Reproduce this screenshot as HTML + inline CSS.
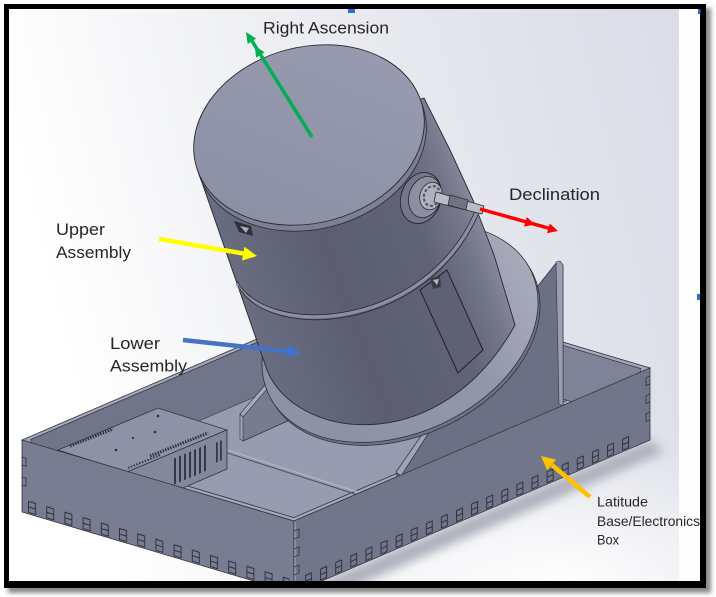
<!DOCTYPE html>
<html><head><meta charset="utf-8">
<style>
html,body{margin:0;padding:0;background:#fff;}
svg{display:block;}
text{font-family:"Liberation Sans",Arial,sans-serif;fill:#262626;}
</style></head><body>
<svg width="716" height="597" viewBox="0 0 716 597" xmlns="http://www.w3.org/2000/svg">
<defs>
 <linearGradient id="bg" x1="0" y1="0.2" x2="1" y2="0">
  <stop offset="0" stop-color="#ffffff"/>
  <stop offset="0.3" stop-color="#f1f2f5"/>
  <stop offset="0.7" stop-color="#e2e4eb"/>
  <stop offset="1" stop-color="#d9dce6"/>
 </linearGradient>
 <radialGradient id="bgb" cx="0.8" cy="1" r="0.5">
  <stop offset="0" stop-color="#ffffff" stop-opacity="0.95"/>
  <stop offset="1" stop-color="#ffffff" stop-opacity="0"/>
 </radialGradient>
 <linearGradient id="body" x1="200" y1="260" x2="480" y2="155" gradientUnits="userSpaceOnUse">
  <stop offset="0.06" stop-color="#6b6e82"/>
  <stop offset="0.4" stop-color="#5b5e70"/>
  <stop offset="0.72" stop-color="#606376"/>
  <stop offset="0.86" stop-color="#74778b"/>
  <stop offset="0.97" stop-color="#9194a7"/>
 </linearGradient>
 <linearGradient id="cap" x1="0" y1="1" x2="1" y2="0">
  <stop offset="0" stop-color="#8a8ea3"/>
  <stop offset="1" stop-color="#9a9db1"/>
 </linearGradient>
 <linearGradient id="disk" x1="260" y1="0" x2="540" y2="0" gradientUnits="userSpaceOnUse">
  <stop offset="0" stop-color="#8d91a5"/>
  <stop offset="0.7" stop-color="#9296aa"/>
  <stop offset="1" stop-color="#a7aabb"/>
 </linearGradient>
 <pattern id="tabR" x="11" y="-13" width="15.1" height="13" patternUnits="userSpaceOnUse">
  <path d="M0.5,0.5 h6 v11 h-6 z M0.5,6 h6" fill="none" stroke="#2a2c36" stroke-width="0.9"/>
 </pattern>
 <pattern id="tabL" x="6" y="-13" width="18.2" height="13" patternUnits="userSpaceOnUse">
  <path d="M0.5,0.5 h7 v11 h-7 z M0.5,6 h7" fill="none" stroke="#2a2c36" stroke-width="0.9"/>
 </pattern>
 <filter id="blur2" x="-10%" y="-10%" width="120%" height="120%"><feGaussianBlur stdDeviation="2"/></filter>
 <filter id="blur5" x="-20%" y="-20%" width="140%" height="140%"><feGaussianBlur stdDeviation="5"/></filter>
 <clipPath id="ci"><rect x="9" y="9" width="691" height="572"/></clipPath>
</defs>

<!-- frame shadow + frame -->
<rect x="8" y="8" width="703" height="585" fill="#8a8a8a" filter="url(#blur2)"/>
<rect x="4" y="4" width="702" height="584" fill="#000"/>

<g clip-path="url(#ci)">
 <rect x="9" y="9" width="691" height="572" fill="url(#bg)"/>
 <rect x="9" y="300" width="691" height="281" fill="url(#bgb)"/>
 <rect x="679" y="9" width="21" height="572" fill="#fdfdfd"/>

 <!-- box shadow -->
 <polygon points="650,440 294,593 296,612 664,452" fill="#aeb1bc" filter="url(#blur5)"/>

 <!-- box top rim (outer quad) -->
 <polygon points="22,440 378,287 650,368 294,521" fill="#a4a8ba" stroke="#30323c" stroke-width="0.8"/>
 <!-- floor (inner quad) -->
 <polygon points="31,439.5 378,290.4 640.6,368.6 293.8,517.6" fill="#989cb0" stroke="#30323c" stroke-width="0.8"/>
 <!-- inner back-left face -->
 <polygon points="31,439.5 378,290.4 378,344 31,493" fill="#71758a" stroke="#30323c" stroke-width="0.6"/>
 <!-- inner back-right face -->
 <polygon points="378,290.4 640.6,368.6 640.6,422 378,344" fill="#7f8398" stroke="#30323c" stroke-width="0.6"/>
 <!-- floor rib -->
 <line x1="190" y1="438" x2="358" y2="492" stroke="#b2b5c4" stroke-width="1.2"/>
 <line x1="190" y1="441" x2="358" y2="495" stroke="#4e5162" stroke-width="1"/>

 <!-- electronics box -->
 <polygon points="58,450 158,408 227,430 127,472" fill="#8e92a6" stroke="#30323c" stroke-width="0.8"/>
 <polygon points="127,472 227,430 227,469 183,488" fill="#84889d" stroke="#30323c" stroke-width="0.8"/>
 <g transform="translate(227,469) skewY(-23)" fill="#353743">
  <rect x="-53" y="-33" width="2" height="26"/>
  <rect x="-48" y="-33" width="2" height="26"/>
  <rect x="-43" y="-33" width="2" height="26"/>
  <rect x="-38" y="-33" width="2" height="26"/>
  <rect x="-33" y="-33" width="2" height="26"/>
  <rect x="-28" y="-33" width="2" height="26"/>
  <rect x="-23" y="-33" width="2" height="26"/>
  <rect x="-11" y="-31" width="1.8" height="20"/>
  <rect x="-7" y="-31" width="1.8" height="20"/>
 </g>
 <line x1="70" y1="446" x2="113" y2="429" stroke="#30323c" stroke-width="3" stroke-dasharray="1.5 1.2"/>
 <line x1="150" y1="456" x2="208" y2="433" stroke="#30323c" stroke-width="3" stroke-dasharray="1.5 1.2"/>
 <line x1="128" y1="468" x2="160" y2="455" stroke="#30323c" stroke-width="2" stroke-dasharray="1.5 1.5"/>
 <circle cx="158" cy="416" r="1.3" fill="#30323c"/>
 <circle cx="155" cy="432" r="1.3" fill="#30323c"/>
 <circle cx="116" cy="450" r="1.3" fill="#30323c"/>
 <circle cx="133" cy="438" r="1.1" fill="#30323c"/>

 <!-- left fin -->
 <polygon points="242,415 266,387 290,420 243,441" fill="#787c90" stroke="#30323c" stroke-width="0.8"/>
 <polygon points="240,414 265,385 268,388 243,417" fill="#a5a9ba" stroke="#30323c" stroke-width="0.6"/>
 <polygon points="240,414 243,417 243,441 240,439" fill="#a0a4b6" stroke="#30323c" stroke-width="0.6"/>

 <!-- right plate -->
 <polygon points="397,474 425,432 537,287 557,262 563,265 563,406 397,478" fill="#6c7084" stroke="#30323c" stroke-width="0.8"/>
 <polygon points="556,262 560,261 563,265 563,406 559,404" fill="#9a9eb0" stroke="#30323c" stroke-width="0.6"/>
 <polygon points="396,472 423,433 428,434 401,476" fill="#a0a4b5" stroke="#30323c" stroke-width="0.7"/>

 <!-- disk -->
 <ellipse cx="402" cy="336" rx="145" ry="100" transform="rotate(-25 402 336)" fill="#6e7286" stroke="#30323c" stroke-width="0.8"/>
 <ellipse cx="400" cy="333" rx="145" ry="100" transform="rotate(-25 400 333)" fill="url(#disk)" stroke="#30323c" stroke-width="0.8"/>

 <!-- cylinder body -->
 <path d="M197,168 L267,370 C295,440 440,460 515,325 L494,255 L473,200 L450,150 L424,98 Z" fill="url(#body)" stroke="#262830" stroke-width="0.9"/>
 <!-- seam ring -->
 <path d="M237,283 C268,340 425,330 476,213" fill="none" stroke="#8c8fa2" stroke-width="3.5"/>
 <path d="M237,281 C268,338 425,328 475,211" fill="none" stroke="#262830" stroke-width="0.8"/>
 <path d="M238,286 C269,343 426,333 478,215" fill="none" stroke="#262830" stroke-width="0.8"/>
 <!-- window -->
 <polygon points="420,290 447,270 483,350 458,373" fill="#5e6173" stroke="#1f2128" stroke-width="1"/>
 <polygon points="430,278 440,276 441,287 433,289" fill="#3a3c46"/>
 <polygon points="433,280 439,279 437,285" fill="#b5b8c6"/>
 <!-- notch -->
 <polygon points="234,221 251,226 253,236 239,232" fill="#2e3038"/>
 <polygon points="240,226 249,228 246,233" fill="#a8abbb"/>
 <!-- lid + cap -->
 <ellipse cx="311" cy="141" rx="117" ry="88" transform="rotate(-15 311 141)" fill="#7d8095" stroke="#262830" stroke-width="0.8"/>
 <ellipse cx="309" cy="135" rx="117" ry="88" transform="rotate(-15 309 135)" fill="url(#cap)" stroke="#262830" stroke-width="0.9"/>

 <!-- declination bearing -->
 <ellipse cx="421" cy="198" rx="20" ry="26" transform="rotate(18 421 198)" fill="#74778a" stroke="#22242c" stroke-width="0.9"/>
 <ellipse cx="425" cy="197" rx="16" ry="21" transform="rotate(18 425 197)" fill="#8c8fa2" stroke="#22242c" stroke-width="0.8"/>
 <ellipse cx="431" cy="196" rx="11" ry="14" transform="rotate(18 431 196)" fill="#aeb1be" stroke="#2a2c33" stroke-width="0.8"/>
 <ellipse cx="432" cy="196" rx="8" ry="10" transform="rotate(18 432 196)" fill="none" stroke="#50525c" stroke-width="2" stroke-dasharray="3 2"/>
 <polygon points="436,192 484,206 482,214 434,202" fill="#b9bcc7" stroke="#2a2c33" stroke-width="0.8"/>
 <polygon points="450,195 468,200 466,210 448,205" fill="#6f7282" stroke="#2a2c33" stroke-width="0.7"/>

 <!-- front-left wall -->
 <g transform="translate(22,512) skewY(16.59)">
  <rect x="0" y="-72" width="272" height="72" fill="#797d92" stroke="#30323c" stroke-width="0.8"/>
  <rect x="6" y="-14" width="262" height="13" fill="url(#tabL)"/>
  <path d="M0,-55 h4 v8 h-4 M0,-35 h4 v8 h-4" fill="none" stroke="#30323c" stroke-width="0.8"/>
 </g>
 <!-- front-right wall -->
 <g transform="translate(294,593) skewY(-23.26)">
  <rect x="0" y="-72" width="356" height="72" fill="#72768a" stroke="#30323c" stroke-width="0.8"/>
  <rect x="11" y="-14" width="332" height="13" fill="url(#tabR)"/>
  <line x1="1" y1="-71" x2="1" y2="0" stroke="#a3a7b8" stroke-width="1.2"/>
  <path d="M0,-62 h5 v8 h-5 M0,-44 h5 v8 h-5 M0,-26 h5 v8 h-5 M356,-64 h-4 v8 h4 M356,-46 h-4 v8 h4 M356,-28 h-4 v8 h4" fill="none" stroke="#30323c" stroke-width="0.8"/>
 </g>
</g>

<!-- arrows -->
<line x1="312" y1="137" x2="252" y2="41" stroke="#00b050" stroke-width="3.5"/>
<polygon points="246,32 256.1,38.6 247.7,44" fill="#00b050"/>
<polygon points="254.5,45.6 264.6,52.2 256.2,57.6" fill="#00b050"/>

<line x1="480" y1="209" x2="550" y2="228.6" stroke="#ff0000" stroke-width="3.5"/>
<polygon points="558,231 547,233.1 549.8,223.5" fill="#ff0000"/>
<polygon points="535,224.5 524,226.6 526.8,217" fill="#ff0000"/>

<line x1="159" y1="239" x2="244" y2="253.6" stroke="#ffff00" stroke-width="4.5"/>
<polygon points="257,256 242,260.5 244.4,246.7" fill="#ffff00"/>

<line x1="183" y1="340" x2="288" y2="351.5" stroke="#4472c4" stroke-width="4.5"/>
<polygon points="302,353 286.3,358.4 287.9,344.4" fill="#4472c4"/>

<line x1="590" y1="497" x2="552" y2="465" stroke="#ffc000" stroke-width="4.5"/>
<polygon points="541,456 556.2,459.6 547.2,470.4" fill="#ffc000"/>

<!-- labels -->
<text x="263" y="33.5" font-size="17" textLength="126" lengthAdjust="spacingAndGlyphs">Right Ascension</text>
<text x="509" y="200" font-size="17" textLength="91" lengthAdjust="spacingAndGlyphs">Declination</text>
<text x="56" y="235" font-size="17" textLength="49" lengthAdjust="spacingAndGlyphs">Upper</text>
<text x="56" y="258" font-size="17" textLength="75" lengthAdjust="spacingAndGlyphs">Assembly</text>
<text x="110" y="349" font-size="17" textLength="50" lengthAdjust="spacingAndGlyphs">Lower</text>
<text x="110" y="371.5" font-size="17" textLength="77" lengthAdjust="spacingAndGlyphs">Assembly</text>
<text x="597" y="506.5" font-size="14" textLength="51" lengthAdjust="spacingAndGlyphs">Latitude</text>
<text x="597" y="526" font-size="14" textLength="103" lengthAdjust="spacingAndGlyphs">Base/Electronics</text>
<text x="597" y="544.5" font-size="14" textLength="22" lengthAdjust="spacingAndGlyphs">Box</text>

<!-- selection handles -->
<rect x="348" y="9" width="7" height="4" fill="#2a6fd6"/>
<rect x="698" y="9" width="2.5" height="5" fill="#2a6fd6"/>
<rect x="697" y="294" width="3" height="6" fill="#2a6fd6"/>
</svg>
</body></html>
